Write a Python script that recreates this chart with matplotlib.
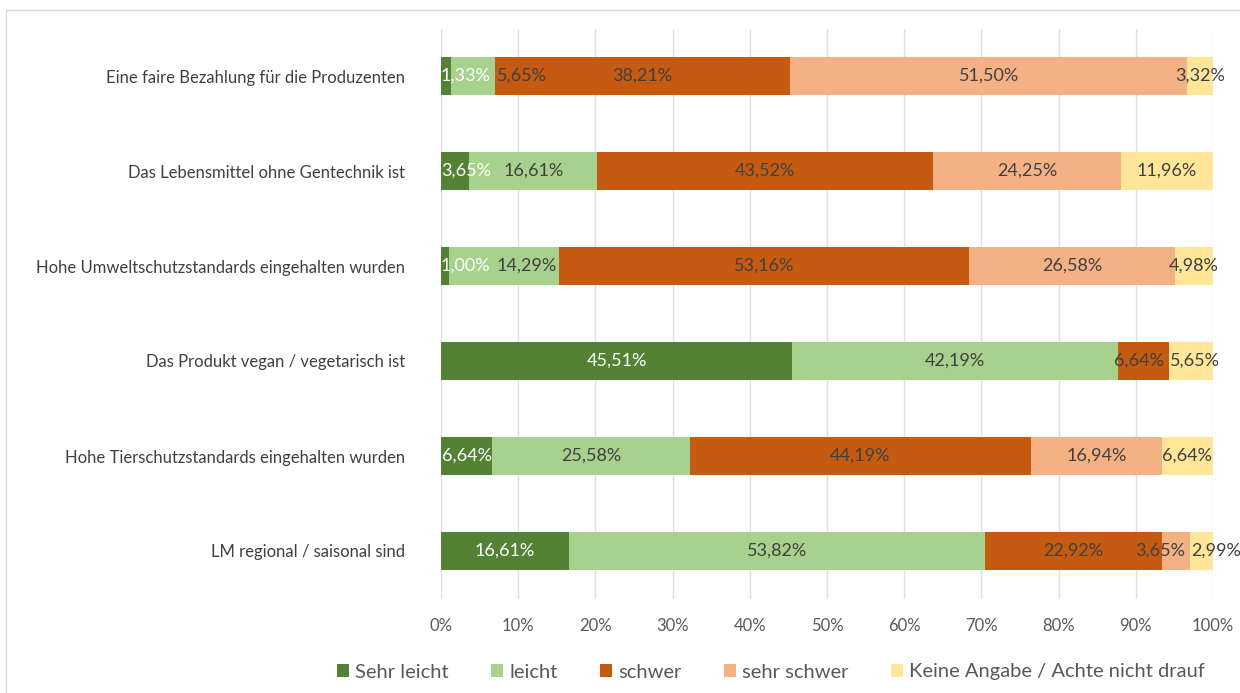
import matplotlib
matplotlib.use("Agg")
from matplotlib import pyplot as plt
from matplotlib.patches import Rectangle
import numpy as np

categories = [
    "Eine faire Bezahlung für die Produzenten",
    "Das Lebensmittel ohne Gentechnik ist",
    "Hohe Umweltschutzstandards eingehalten wurden",
    "Das Produkt vegan / vegetarisch ist",
    "Hohe Tierschutzstandards eingehalten wurden",
    "LM regional / saisonal sind",
]
series_names = ["Sehr leicht", "leicht", "schwer", "sehr schwer", "Keine Angabe / Achte nicht drauf"]
sehr_leicht = [1.33, 3.65, 1.00, 45.51, 6.64, 16.61]
leicht = [5.65, 16.61, 14.29, 42.19, 25.58, 53.82]
schwer = [38.21, 43.52, 53.16, 6.64, 44.19, 22.92]
sehr_schwer = [51.50, 24.25, 26.58, 0.0, 16.94, 3.65]
keine_angabe = [3.32, 11.96, 4.98, 5.65, 6.64, 2.99]

colors = ["#548235", "#A9D18E", "#C55A11", "#F4B183", "#FFE699"]
text_colors = ["white", "#404040", "#404040", "#404040", "#404040"]

plt.rcParams["font.family"] = ["Lato", "DejaVu Sans"]

fig = plt.figure(figsize=(12.4, 6.93), dpi=100)
ax = fig.add_axes([441 / 1240, 1 - 598.5 / 693, 772 / 1240, 570 / 693])

# chart area frame
fig.patches.append(Rectangle((6 / 1240, -0.1), 1.2, 1 - 10 / 693 + 0.1, transform=fig.transFigure,
                             fill=False, edgecolor="#d9d9d9", linewidth=1.0))

data = np.array([sehr_leicht, leicht, schwer, sehr_schwer, keine_angabe])
y = np.arange(len(categories))
left = np.zeros(len(categories))
labels = [[] for _ in categories]
for k, vals in enumerate(data):
    ax.barh(y, vals, left=left, height=0.4, color=colors[k], label=series_names[k], zorder=2)
    for i, v in enumerate(vals):
        if v > 0:
            t = ax.text(left[i] + v / 2, y[i], f"{v:.2f}%".replace(".", ","), ha="center", va="center",
                        color=text_colors[k], fontsize=13, zorder=3)
            labels[i].append(t)
    left += vals

ax.set_xlim(0, 100)
ax.set_ylim(len(categories) - 0.5, -0.5)
ax.set_yticks(y)
ax.set_yticklabels(categories, fontsize=12, color="#404040")
ax.set_xticks(np.arange(0, 101, 10))
ax.set_xticklabels([f"{v}%" for v in range(0, 101, 10)], fontsize=12, color="#595959")
ax.tick_params(length=0)
ax.tick_params(axis="y", pad=26)
ax.tick_params(axis="x", pad=14)
ax.grid(axis="x", color="#e0e0e0", linewidth=1, zorder=0)
for s in ax.spines.values():
    s.set_visible(False)

# push overlapping data labels apart within each bar
fig.canvas.draw()
r = fig.canvas.get_renderer()
px = 100 / ax.get_window_extent().width
pad = 6 * px
for row in labels:
    cs = [t.get_position()[0] for t in row]
    ws = [t.get_window_extent(r).width * px for t in row]
    for _ in range(50):
        for i in range(len(row) - 1):
            ov = cs[i] + ws[i] / 2 + pad - (cs[i + 1] - ws[i + 1] / 2)
            if ov > 0:
                cs[i] -= ov / 2
                cs[i + 1] += ov / 2
        cs[0] = max(cs[0], ws[0] / 2)
        for i in range(len(row) - 1):
            cs[i + 1] = max(cs[i + 1], cs[i] + (ws[i] + ws[i + 1]) / 2 + pad)
    for t, c in zip(row, cs):
        t.set_x(c)

fig.legend(loc="center", bbox_to_anchor=(771 / 1240, 1 - 672 / 693), ncol=5, frameon=False,
           fontsize=14.5, handlelength=0.6, handleheight=0.6, handletextpad=0.3, columnspacing=2.1,
           labelcolor="#595959")

fig.savefig("out.png", dpi=100)
